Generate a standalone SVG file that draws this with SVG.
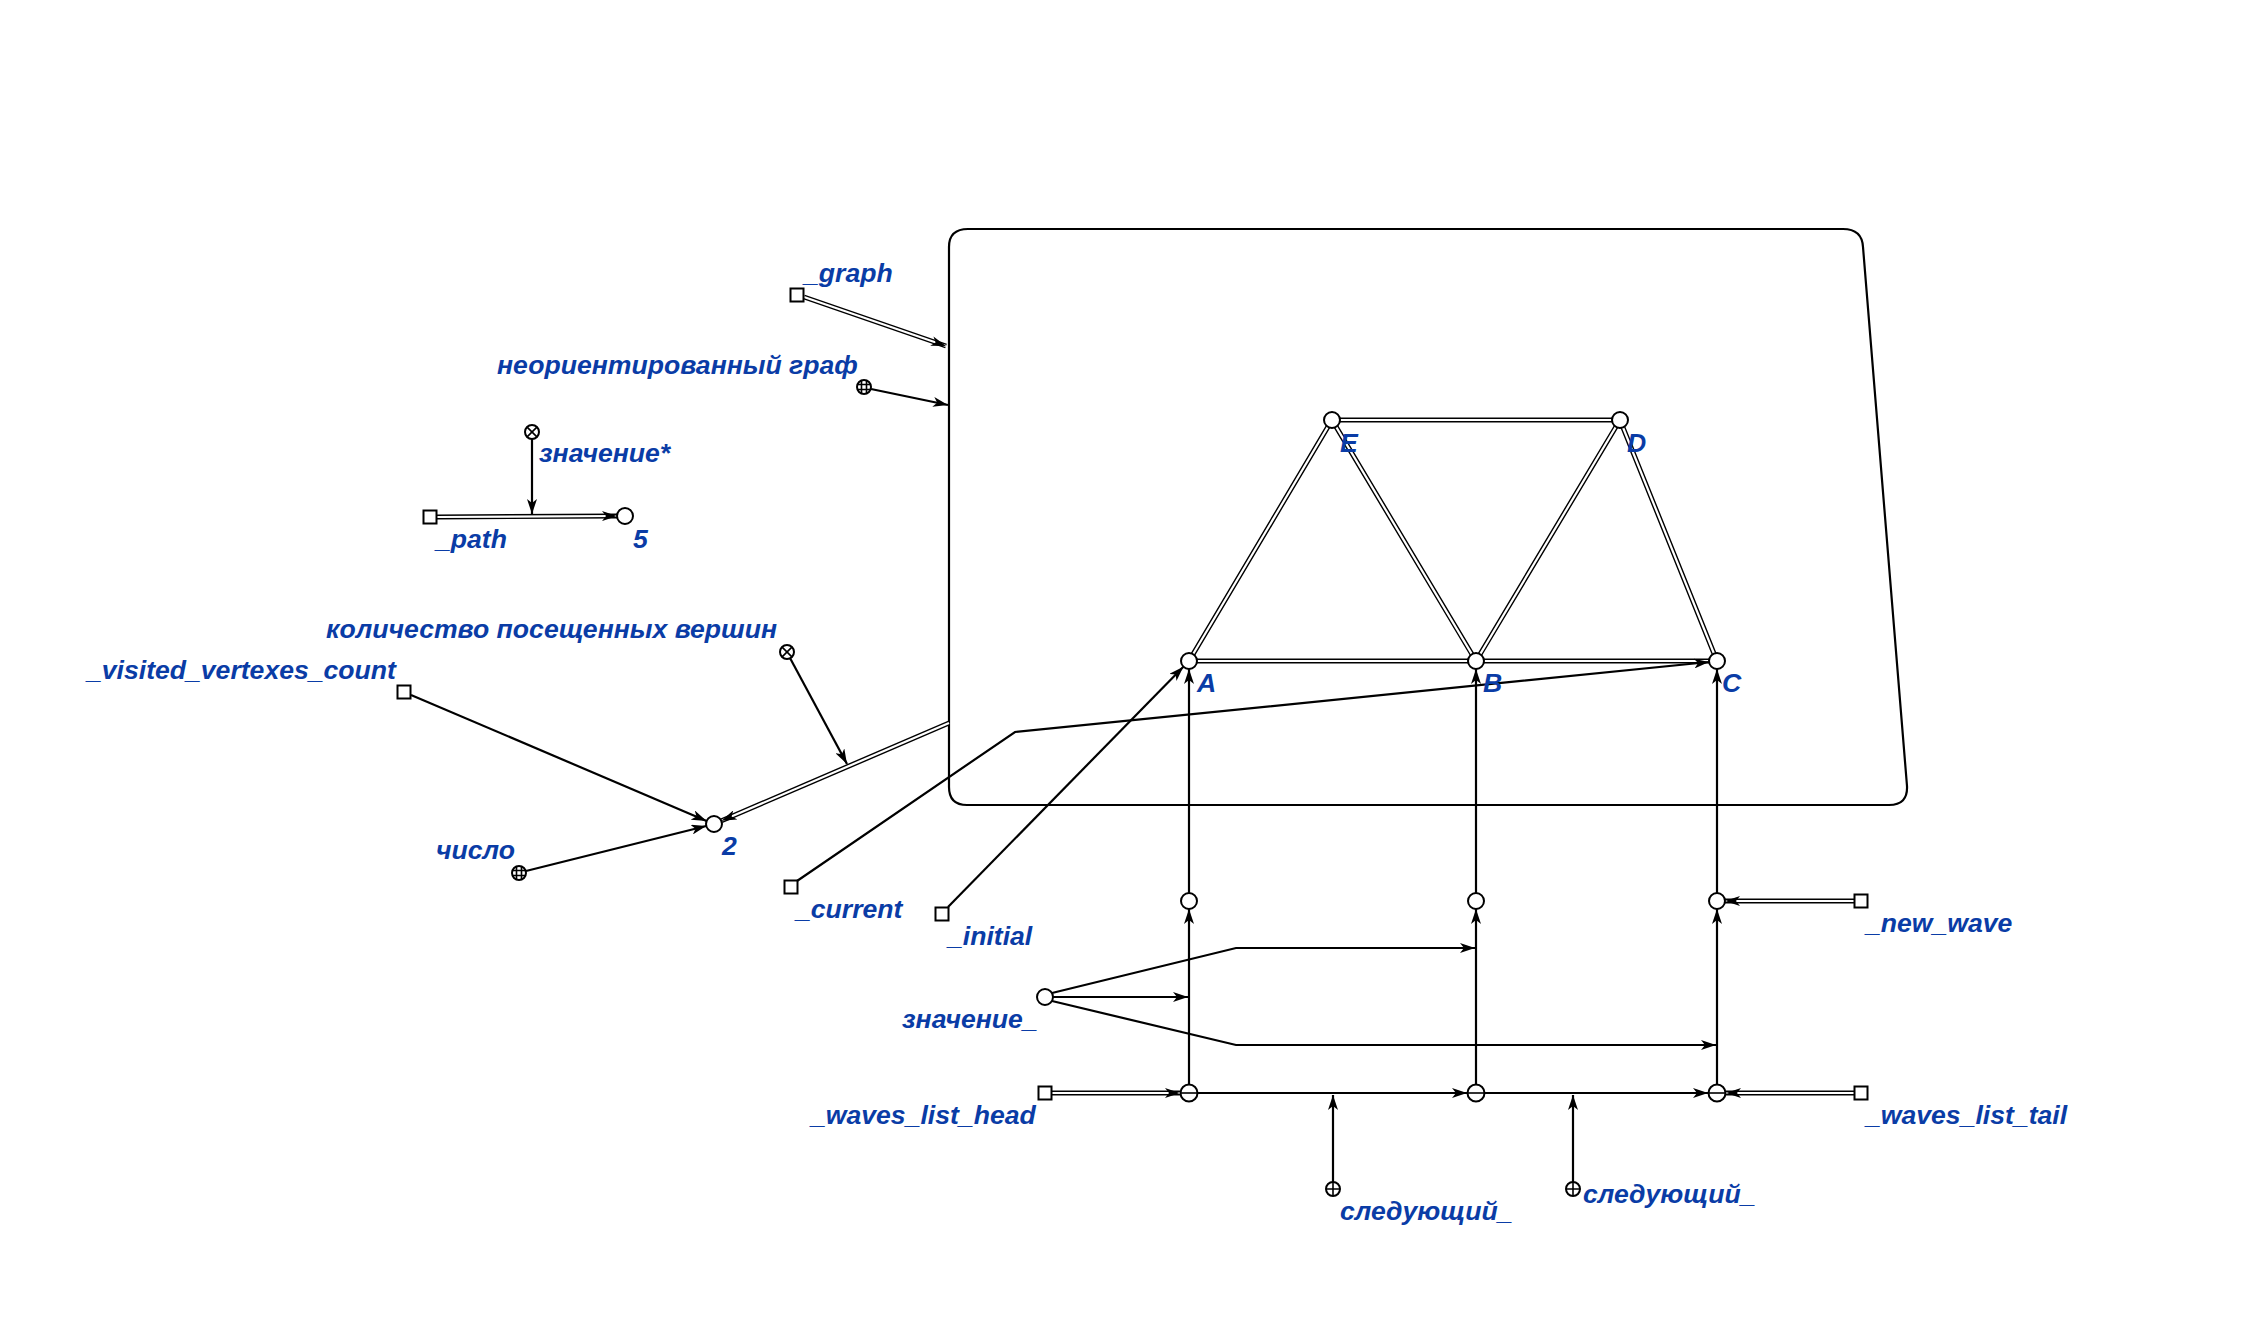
<svg xmlns="http://www.w3.org/2000/svg" width="2245" height="1325" viewBox="0 0 2245 1325">
<style>
.lbl{font-family:"Liberation Sans",Arial,sans-serif;font-weight:bold;font-style:italic;font-size:26.6px;fill:#0a3ca6}
.ln{fill:none;stroke:#000;stroke-width:2.2}
.dbo{fill:none;stroke:#000;stroke-width:5}
.dbi{fill:none;stroke:#fff;stroke-width:2.2}
.nd{fill:#fff;stroke:#000;stroke-width:2}
.sym{stroke:#000;stroke-width:1.6;fill:none}
.cont{fill:none;stroke:#000;stroke-width:2.2}
</style>
<defs>
<marker id="arr" viewBox="0 0 15 10" refX="15" refY="5" markerWidth="15" markerHeight="10" markerUnits="userSpaceOnUse" orient="auto">
<path d="M0,0 L15,5 L0,10 L4,5 Z" fill="#000"/>
</marker>
<g id="sq"><rect x="-6.5" y="-6.5" width="13" height="13" class="nd"/></g>
<g id="cn"><circle r="8" class="nd"/></g>
<g id="tup"><circle r="8.5" class="nd"/><path d="M-8.5,0 H8.5" class="sym"/></g>
<g id="plus"><circle r="7" class="nd"/><path d="M-7,0 H7 M0,-7 V7" class="sym"/></g>
<g id="cross"><circle r="7" class="nd"/><path d="M-4.9,-4.9 L4.9,4.9 M4.9,-4.9 L-4.9,4.9" class="sym"/></g>
<g id="cls"><circle r="7" class="nd"/><path d="M-2.5,-6.5 V6.5 M2.5,-6.5 V6.5 M-6.5,-2.5 H6.5 M-6.5,2.5 H6.5" class="sym" stroke-width="1.2"/></g>
</defs>

<g id="contour">
<path class="cont" d="M949,247 Q949,229 968,229 L1843,229 Q1862,229 1863,247 L1907,786 Q1908,805 1889,805 L967,805 Q949,805 949,787 Z"/>
</g>

<g id="connectors">
<g>
<path class="dbo" d="M1189,661 H1717 M1332,420 H1620 M1189,661 L1332,420 L1476,661 L1620,420 L1717,661"/>
<path class="dbi" d="M1189,661 H1717 M1332,420 H1620 M1189,661 L1332,420 L1476,661 L1620,420 L1717,661"/>
</g>
<path class="dbo" d="M804,297 L946,346"/>
<path class="dbi" d="M804,297 L946,346" marker-end="url(#arr)"/>
<path class="dbo" d="M437,517 L617,516"/>
<path class="dbi" d="M437,517 L617,516" marker-end="url(#arr)"/>
<path class="dbo" d="M949,723 L721.5,820.8"/>
<path class="dbi" d="M949,723 L721.5,820.8" marker-end="url(#arr)"/>
<path class="dbo" d="M1052,1093 H1180"/>
<path class="dbi" d="M1052,1093 H1180" marker-end="url(#arr)"/>
<path class="dbo" d="M1854,1093 H1726"/>
<path class="dbi" d="M1854,1093 H1726" marker-end="url(#arr)"/>
<path class="dbo" d="M1854,901 H1725"/>
<path class="dbi" d="M1854,901 H1725" marker-end="url(#arr)"/>
<path class="ln" d="M532,439 V514" marker-end="url(#arr)"/>
<path class="ln" d="M871,389 L948,405" marker-end="url(#arr)"/>
<path class="ln" d="M790,658 L847,764" marker-end="url(#arr)"/>
<path class="ln" d="M411,695 L706.6,820.9" marker-end="url(#arr)"/>
<path class="ln" d="M526,871 L706.2,826" marker-end="url(#arr)"/>
<path class="ln" d="M797,881 L1015,732 L1709,662" marker-end="url(#arr)"/>
<path class="ln" d="M948,907 L1183.4,666.7" marker-end="url(#arr)"/>
<path class="ln" d="M1189,1084 V909" marker-end="url(#arr)"/>
<path class="ln" d="M1189,893 V669" marker-end="url(#arr)"/>
<path class="ln" d="M1476,1084 V909" marker-end="url(#arr)"/>
<path class="ln" d="M1476,893 V669" marker-end="url(#arr)"/>
<path class="ln" d="M1717,1084 V909" marker-end="url(#arr)"/>
<path class="ln" d="M1717,893 V669" marker-end="url(#arr)"/>
<path class="ln" d="M1198,1093 H1467" marker-end="url(#arr)"/>
<path class="ln" d="M1485,1093 H1708" marker-end="url(#arr)"/>
<path class="ln" d="M1333,1182 V1095" marker-end="url(#arr)"/>
<path class="ln" d="M1573,1182 V1095" marker-end="url(#arr)"/>
<path class="ln" d="M1053,997 H1188" marker-end="url(#arr)"/>
<path class="ln" d="M1052,993 L1236,948 H1475" marker-end="url(#arr)"/>
<path class="ln" d="M1052,1001 L1236,1045 H1716" marker-end="url(#arr)"/>
</g>

<g id="n_graph"><use href="#sq" x="797" y="295"/><text class="lbl" x="804" y="282">_graph</text></g>
<g id="n_undirected"><use href="#cls" x="864" y="387"/><text class="lbl" x="497" y="374">неориентированный граф</text></g>
<g id="n_value_star"><use href="#cross" x="532" y="432"/><text class="lbl" x="539" y="462">значение*</text></g>
<g id="n_path"><use href="#sq" x="430" y="517"/><text class="lbl" x="436" y="548">_path</text></g>
<g id="n_5"><use href="#cn" x="625" y="516"/><text class="lbl" x="633" y="548">5</text></g>
<g id="n_visited_rel"><use href="#cross" x="787" y="652"/><text class="lbl" x="326" y="638">количество посещенных вершин</text></g>
<g id="n_visited"><use href="#sq" x="404" y="692"/><text class="lbl" x="87" y="679">_visited_vertexes_count</text></g>
<g id="n_2"><use href="#cn" x="714" y="824"/><text class="lbl" x="722" y="855">2</text></g>
<g id="n_number"><use href="#cls" x="519" y="873"/><text class="lbl" x="436" y="859">число</text></g>
<g id="n_current"><use href="#sq" x="791" y="887"/><text class="lbl" x="796" y="918">_current</text></g>
<g id="n_initial"><use href="#sq" x="942" y="914"/><text class="lbl" x="948" y="945">_initial</text></g>
<g id="n_E"><use href="#cn" x="1332" y="420"/><text class="lbl" x="1340" y="452">E</text></g>
<g id="n_D"><use href="#cn" x="1620" y="420"/><text class="lbl" x="1627" y="452">D</text></g>
<g id="n_A"><use href="#cn" x="1189" y="661"/><text class="lbl" x="1197" y="692">A</text></g>
<g id="n_B"><use href="#cn" x="1476" y="661"/><text class="lbl" x="1483" y="692">B</text></g>
<g id="n_C"><use href="#cn" x="1717" y="661"/><text class="lbl" x="1722" y="692">C</text></g>
<g id="n_wA"><use href="#cn" x="1189" y="901"/></g>
<g id="n_wB"><use href="#cn" x="1476" y="901"/></g>
<g id="n_wC"><use href="#cn" x="1717" y="901"/></g>
<g id="n_new_wave"><use href="#sq" x="1861" y="901"/><text class="lbl" x="1866" y="932">_new_wave</text></g>
<g id="n_value_"><use href="#cn" x="1045" y="997"/><text class="lbl" x="902" y="1028">значение_</text></g>
<g id="n_tA"><use href="#tup" x="1189" y="1093"/></g>
<g id="n_tB"><use href="#tup" x="1476" y="1093"/></g>
<g id="n_tC"><use href="#tup" x="1717" y="1093"/></g>
<g id="n_head"><use href="#sq" x="1045" y="1093"/><text class="lbl" x="811" y="1124">_waves_list_head</text></g>
<g id="n_tail"><use href="#sq" x="1861" y="1093"/><text class="lbl" x="1866" y="1124">_waves_list_tail</text></g>
<g id="n_next1"><use href="#plus" x="1333" y="1189"/><text class="lbl" x="1340" y="1220">следующий_</text></g>
<g id="n_next2"><use href="#plus" x="1573" y="1189"/><text class="lbl" x="1583" y="1203">следующий_</text></g>
</svg>
